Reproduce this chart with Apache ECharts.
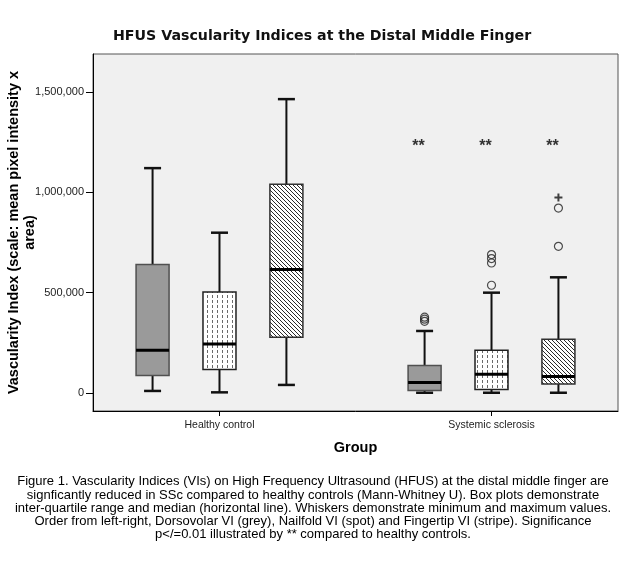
<!DOCTYPE html>
<html>
<head>
<meta charset="utf-8">
<script src="https://cdn.jsdelivr.net/npm/echarts@6/dist/echarts.min.js"></script>
<style>
html,body{margin:0;padding:0;background:#fff;}
#chart{width:626px;height:561px;}
</style>
</head>
<body>
<div id="chart"></div>
<script>
// ---------- data ----------
const groups = ['Healthy control', 'Systemic sclerosis'];
const indexNames = ['Dorsovolar VI', 'Nailfold VI', 'Fingertip VI'];
// [min, Q1, median, Q3, max] for each group
const dorsovolarBox = [[10000, 87000, 213000, 640000, 1121000], [1000, 12000, 52000, 136500, 309000]];
const nailfoldBox   = [[3000, 116500, 244000, 503000, 799000], [1000, 17000, 93000, 213000, 500000]];
const fingertipBox  = [[40000, 277500, 616000, 1041000, 1465000], [1000, 44800, 81700, 267600, 576500]];
// outliers (circles) and extremes (+) for each group
const dorsovolarOutliers = [[], [378000, 368000, 357000]];
const nailfoldOutliers   = [[], [537000, 648000, 670000, 690000]];
const fingertipOutliers  = [[], [731000, 922000]];
const fingertipExtremes  = [[], [975000]];
const significance = ['', '**'];
const significanceLevel = 1243000;
const yTicks = [0, 500000, 1000000, 1500000];

const captionLines = [
  'Figure 1. Vascularity Indices (VIs) on High Frequency Ultrasound (HFUS) at the distal middle finger are',
  'signficantly reduced in SSc compared to healthy controls (Mann-Whitney U). Box plots demonstrate',
  'inter-quartile range and median (horizontal line). Whiskers demonstrate minimum and maximum values.',
  'Order from left-right, Dorsovolar VI (grey), Nailfold VI (spot) and Fingertip VI (stripe). Significance',
  'p</=0.01 illustrated by ** compared to healthy controls.'
];

// ---------- layout helpers ----------
const groupPos = [1, 2];
const slotOffset = [-0.246, 0, 0.246];
function xOf(g, k) { return groupPos[g] + slotOffset[k]; }

// ---------- fills ----------
function makePattern(kind) {
  const c = document.createElement('canvas');
  const ctx = c.getContext('2d');
  if (kind === 'dot') {
    c.width = 5; c.height = 5;
    ctx.fillStyle = '#ffffff'; ctx.fillRect(0, 0, 5, 5);
    ctx.fillStyle = '#6a6a6a'; ctx.fillRect(2, 0, 1, 3);
  } else {
    c.width = 4; c.height = 4;
    ctx.fillStyle = '#ffffff'; ctx.fillRect(0, 0, 4, 4);
    ctx.fillStyle = '#2a2a2a';
    for (let i = 0; i < 4; i++) ctx.fillRect(i, i, 1, 1);
  }
  return { image: c, repeat: 'repeat' };
}
const fills = ['#9a9a9a', makePattern('dot'), makePattern('stripe')];
const borders = ['#505050', '#202020', '#303030'];

const boxes = [dorsovolarBox, nailfoldBox, fingertipBox];
const outliers = [dorsovolarOutliers, nailfoldOutliers, fingertipOutliers];

function renderBox(k) {
  return function (params, api) {
    const x = api.value(0);
    const p = [1, 2, 3, 4, 5].map(i => api.coord([x, api.value(i)]));
    const cx = p[0][0];
    const hw = 16.5, cw = 8.5;
    const yMin = p[0][1], yQ1 = p[1][1], yMed = p[2][1], yQ3 = p[3][1], yMax = p[4][1];
    const ln = (x1, y1, x2, y2, w, c) => ({ type: 'line', shape: { x1, y1, x2, y2 }, style: { stroke: c || '#111', lineWidth: w } });
    return {
      type: 'group',
      children: [
        ln(cx, yMax, cx, yQ3, 2),
        ln(cx, yQ1, cx, yMin, 2),
        ln(cx - cw, yMax, cx + cw, yMax, 2.5),
        ln(cx - cw, yMin, cx + cw, yMin, 2.5),
        { type: 'rect', shape: { x: cx - hw, y: yQ3, width: hw * 2, height: yQ1 - yQ3 },
          style: { fill: fills[k], stroke: borders[k], lineWidth: 1.5 } },
        ln(cx - hw, yMed, cx + hw, yMed, 3, '#000')
      ]
    };
  };
}

const series = [];
boxes.forEach((b, k) => {
  series.push({
    name: indexNames[k],
    type: 'custom',
    renderItem: renderBox(k),
    encode: { x: 0, y: [1, 2, 3, 4, 5] },
    data: b.map((v, g) => [xOf(g, k)].concat(v)),
    z: 2
  });
});
outliers.forEach((o, k) => {
  const d = [];
  o.forEach((vals, g) => vals.forEach(v => d.push([xOf(g, k), v])));
  series.push({
    name: indexNames[k] + ' outliers',
    type: 'scatter',
    symbol: 'circle',
    symbolSize: 8,
    itemStyle: { color: 'rgba(0,0,0,0)', borderColor: '#222', borderWidth: 1.2 },
    data: d,
    z: 3
  });
});
(function () {
  const d = [];
  fingertipExtremes.forEach((vals, g) => vals.forEach(v => d.push([xOf(g, 2), v])));
  series.push({
    name: 'Fingertip VI extremes',
    type: 'scatter',
    symbol: 'path://M3,0h2v3h3v2h-3v3h-2v-3h-3v-2h3z',
    symbolSize: 8,
    itemStyle: { color: '#111' },
    data: d,
    z: 3
  });
})();
(function () {
  const d = [];
  significance.forEach((s, g) => {
    if (s) for (let k = 0; k < 3; k++) d.push({ value: [xOf(g, k), significanceLevel], label: { formatter: s } });
  });
  series.push({
    name: 'significance',
    type: 'scatter',
    symbolSize: 0,
    itemStyle: { color: '#000' },
    label: { show: true, position: 'inside', offset: [-6, 3], fontSize: 16, fontWeight: 'bold', color: '#000', fontFamily: 'Liberation Sans' },
    data: d,
    z: 4
  });
})();

const chart = echarts.init(document.getElementById('chart'), null, { renderer: 'canvas' });
chart.setOption({
  animation: false,
  backgroundColor: '#ffffff',
  title: [
    { text: 'HFUS Vascularity Indices at the Distal Middle Finger', left: 108, top: 24,
      textStyle: { fontFamily: 'DejaVu Sans', fontWeight: 'bold', fontSize: 14.2, color: '#111' } },
    { text: captionLines.join('\n'), left: 'center', top: 470,
      textStyle: { fontFamily: 'Liberation Sans', fontWeight: 'normal', fontSize: 13, lineHeight: 13.3, color: '#000' } }
  ],
  grid: { left: 93, right: 8, top: 54, bottom: 150, outerBoundsMode: 'none', containLabel: false,
    show: true, backgroundColor: '#f0f0f0', borderColor: '#555', borderWidth: 1 },
  xAxis: {
    type: 'value', min: 0.535, max: 2.465,
    name: 'Group', nameLocation: 'middle', nameGap: 29, nameMoveOverlap: false,
    nameTextStyle: { fontFamily: 'Liberation Sans', fontWeight: 'bold', fontSize: 14.5, color: '#000' },
    axisLine: { show: true, onZero: false, lineStyle: { color: '#000', width: 1 } },
    axisTick: { show: true, customValues: groupPos, length: 5, lineStyle: { color: '#000' } },
    axisLabel: { customValues: groupPos, formatter: v => groups[groupPos.indexOf(v)] || '', margin: 9,
      fontFamily: 'Liberation Sans', fontSize: 10.5, color: '#222' },
    splitLine: { show: false }
  },
  yAxis: {
    type: 'value', min: -90000, max: 1690000,
    name: 'Vascularity Index (scale: mean pixel intensity x\narea)', nameLocation: 'middle', nameGap: 55,
    nameMoveOverlap: false,
    nameTextStyle: { fontFamily: 'Liberation Sans', fontWeight: 'bold', fontSize: 14.5, lineHeight: 16, color: '#000', align: 'center' },
    axisLine: { show: true, onZero: false, lineStyle: { color: '#000', width: 1 } },
    axisTick: { show: true, customValues: yTicks, length: 7, lineStyle: { color: '#000' } },
    axisLabel: { customValues: yTicks, margin: 9, formatter: v => v.toLocaleString('en-US'),
      fontFamily: 'Liberation Sans', fontSize: 11, color: '#222' },
    splitLine: { show: false }
  },
  series: series
});
</script>
</body>
</html>
